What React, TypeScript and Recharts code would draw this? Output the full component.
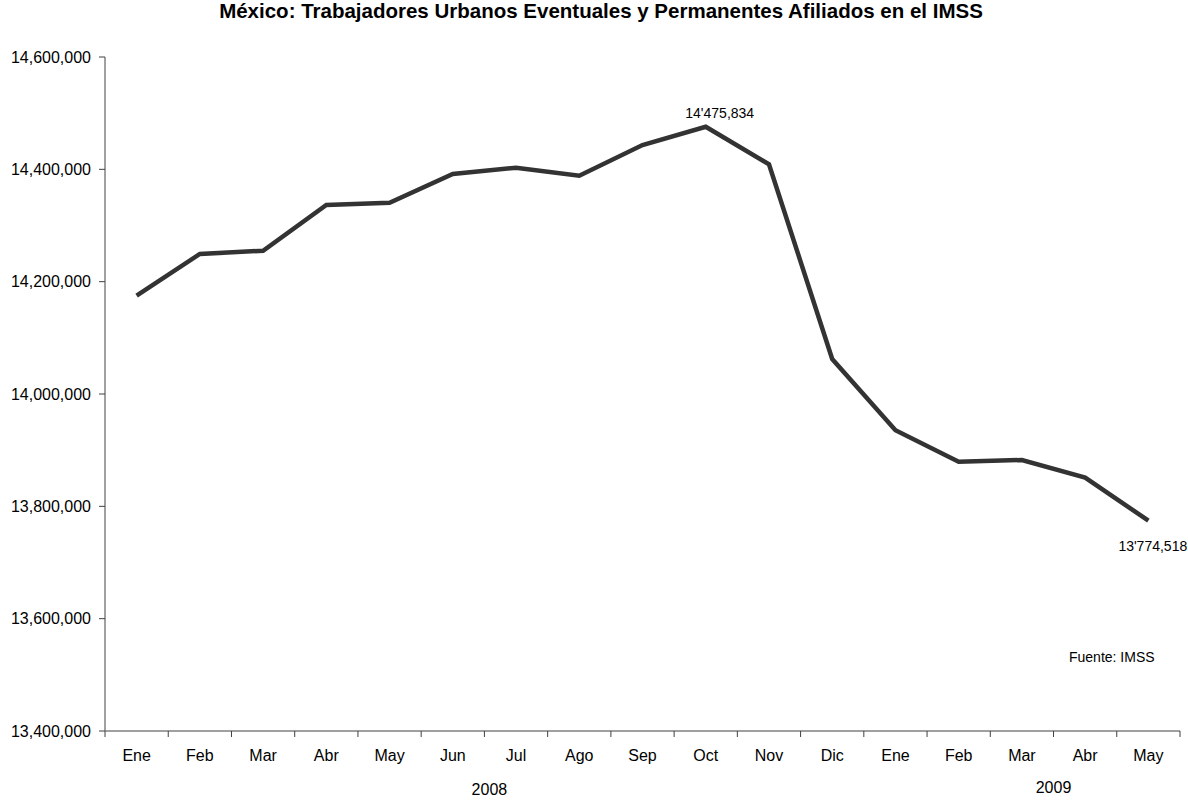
import React from 'react';
import { LineChart, Line, XAxis, YAxis, LabelList } from 'recharts';

const months = ['Ene', 'Feb', 'Mar', 'Abr', 'May', 'Jun', 'Jul', 'Ago', 'Sep', 'Oct', 'Nov', 'Dic', 'Ene', 'Feb', 'Mar', 'Abr', 'May'];
const workers = [14175000, 14249300, 14255100, 14336500, 14340600, 14391700, 14402900, 14388700, 14443300, 14475834, 14409000, 14062300, 13935400, 13879500, 13882500, 13851000, 13774518];
const yTicks = [13400000, 13600000, 13800000, 14000000, 14200000, 14400000, 14600000];
const years = ['2008', '2009'];
const labeledIdx = [9, 16];

const data = months.map((m, i) => ({ month: m, value: workers[i] }));

const W = 1188;
const H = 801;
const M = { top: 57, right: 8, bottom: 69, left: 0 };
const YW = 105;
const PLOT_W = W - M.left - M.right - YW;
const BW = PLOT_W / months.length;
const FONT = '"Liberation Sans", Arial, sans-serif';

const fmtAxis = (v: number) => v.toLocaleString('en-US');
const fmtLabel = (v: number) => {
  const s = Math.round(v).toLocaleString('en-US');
  const i = s.indexOf(',');
  return s.slice(0, i) + "'" + s.slice(i + 1);
};

const XTick = (props: any) => {
  const { x, y, payload, index } = props;
  const ax = y;
  return (
    <g>
      {index === 0 && <line x1={x - BW / 2} x2={x - BW / 2} y1={ax} y2={ax + 6} stroke="#404040" strokeWidth={1} />}
      <line x1={x + BW / 2} x2={x + BW / 2} y1={ax} y2={ax + 6} stroke="#404040" strokeWidth={1} />
      <text x={x} y={ax + 30} textAnchor="middle" fontSize={16} fontFamily={FONT} fill="#000">
        {payload.value}
      </text>
      {index === 5 && (
        <text x={x + BW / 2 + 5} y={ax + 64} textAnchor="middle" fontSize={16} fontFamily={FONT} fill="#000">
          {years[0]}
        </text>
      )}
      {index === 14 && (
        <text x={x + BW / 2} y={ax + 62} textAnchor="middle" fontSize={16} fontFamily={FONT} fill="#000">
          {years[1]}
        </text>
      )}
    </g>
  );
};

const PointLabel = (props: any) => {
  const { x, y, value, index } = props;
  if (!labeledIdx.includes(index)) return null;
  if (index === 9) {
    return (
      <text x={x + 14} y={y - 9} textAnchor="middle" fontSize={14} fontFamily={FONT} fill="#000">
        {fmtLabel(value)}
      </text>
    );
  }
  return (
    <text x={x - 30} y={y + 30} textAnchor="start" fontSize={14} fontFamily={FONT} fill="#000">
      {fmtLabel(value)}
    </text>
  );
};

export default function App() {
  return (
    <div style={{ position: 'absolute', left: 0, top: 0, width: W, height: H, background: '#fff' }}>
      <div
        style={{
          position: 'absolute',
          left: 0,
          top: -1,
          width: 1202,
          textAlign: 'center',
          fontFamily: FONT,
          fontWeight: 'bold',
          fontSize: 20.5,
          color: '#000',
        }}
      >
        México: Trabajadores Urbanos Eventuales y Permanentes Afiliados en el IMSS
      </div>
      <div
        style={{
          position: 'absolute',
          left: 1069,
          top: 649,
          fontFamily: FONT,
          fontSize: 14,
          color: '#000',
          whiteSpace: 'nowrap',
        }}
      >
        Fuente: IMSS
      </div>
      <LineChart width={W} height={H} data={data} margin={M}>
        <XAxis
          dataKey="month"
          allowDuplicatedCategory={true}
          tickLine={false}
          tickSize={0}
          tickMargin={0}
          height={1}
          padding={{ left: BW / 2, right: BW / 2 }}
          axisLine={{ stroke: '#404040', strokeWidth: 1 }}
          tick={<XTick />}
          interval={0}
        />
        <YAxis
          width={YW}
          domain={[13400000, 14600000]}
          ticks={yTicks}
          tickFormatter={fmtAxis}
          tickSize={6}
          tickMargin={8}
          axisLine={{ stroke: '#808080', strokeWidth: 1.5 }}
          tickLine={{ stroke: '#404040' }}
          tick={{ fontSize: 16, fontFamily: FONT, fill: '#000' }}
          allowDataOverflow={true}
        />
        <Line
          type="linear"
          dataKey="value"
          stroke="#333333"
          strokeWidth={4.5}
          dot={false}
          isAnimationActive={false}
        >
          <LabelList dataKey="value" content={<PointLabel />} />
        </Line>
      </LineChart>
    </div>
  );
}
